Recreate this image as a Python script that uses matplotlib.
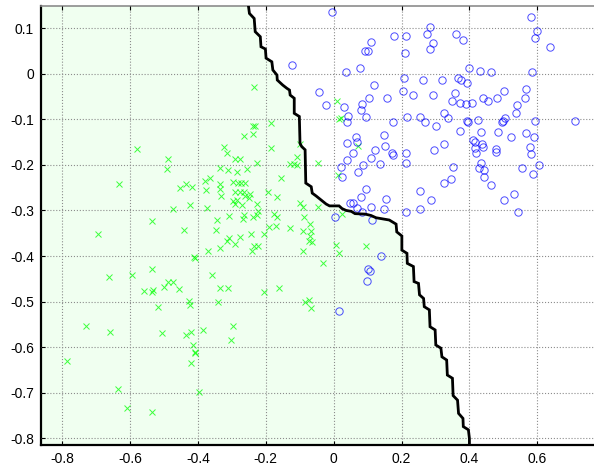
import numpy as np
import matplotlib
matplotlib.use('Agg')
import matplotlib.pyplot as plt

plt.rcParams['font.family'] = ['Liberation Sans', 'DejaVu Sans']
plt.rcParams['axes.unicode_minus'] = False

# class 1 samples (green crosses)
green_x = [-0.265, -0.324, -0.315, -0.290, -0.275, -0.285, -0.256, -0.334, -0.310, -0.580,
           -0.487, -0.492, -0.631, -0.452, -0.434, -0.418, -0.378, -0.364, -0.377, -0.334,
           -0.334, -0.332, -0.295, -0.283, -0.272, -0.260, -0.290, -0.275, -0.264, -0.260,
           -0.250, -0.247, -0.295, -0.285, -0.290, -0.270, -0.265, -0.267, -0.424, -0.474,
           -0.536, -0.372, -0.343, -0.307,
           -0.234, -0.237, -0.232, -0.185,
           -0.238, -0.185, -0.226, -0.128, -0.118, -0.108, -0.045, -0.099, -0.108, -0.155,
           -0.192, -0.167, -0.226, -0.227, -0.222, -0.237, -0.177, -0.167, -0.189, -0.169,
           -0.128, -0.099, -0.089, -0.087, -0.045, -0.069, -0.091, -0.066, -0.069, -0.074,
           -0.064, -0.089, 0.024, 0.007, 0.017, 0.096, 0.072, 0.014,
           0.009, 0.022, 0.016,
           -0.693, -0.442, -0.347, -0.315, -0.307, -0.290, -0.277, -0.244, -0.206, -0.336,
           -0.369, -0.241, -0.234, -0.224, -0.411, -0.408, -0.536, -0.661, -0.594, -0.559,
           -0.536, -0.533, -0.501, -0.487, -0.474, -0.456, -0.359, -0.334, -0.310, -0.206,
           -0.160, -0.516, -0.425, -0.424, -0.342, -0.729, -0.659, -0.506, -0.434, -0.421,
           -0.385, -0.297, -0.301, -0.415, -0.407, -0.409, -0.420, -0.786, -0.634, -0.398,
           -0.609, -0.536,
           -0.030, -0.084, -0.074, -0.067]
green_y = [-0.137, -0.160, -0.174, -0.188, -0.188, -0.215, -0.210, -0.208, -0.212, -0.165,
           -0.188, -0.210, -0.242, -0.251, -0.243, -0.248, -0.235, -0.229, -0.255, -0.242,
           -0.253, -0.268, -0.237, -0.240, -0.239, -0.239, -0.259, -0.259, -0.259, -0.268,
           -0.273, -0.264, -0.280, -0.277, -0.285, -0.288, -0.310, -0.318, -0.288, -0.297,
           -0.323, -0.294, -0.320, -0.312,
           -0.029, -0.115, -0.115, -0.109,
           -0.132, -0.164, -0.195, -0.198, -0.198, -0.201, -0.197, -0.154, -0.182, -0.228,
           -0.259, -0.270, -0.286, -0.310, -0.302, -0.314, -0.308, -0.314, -0.337, -0.335,
           -0.339, -0.284, -0.292, -0.314, -0.293, -0.330, -0.344, -0.344, -0.356, -0.368,
           -0.370, -0.390, -0.308, -0.376, -0.394, -0.378, -0.159, -0.222,
           -0.060, -0.098, -0.100,
           -0.352, -0.343, -0.343, -0.366, -0.361, -0.373, -0.359, -0.352, -0.352, -0.383,
           -0.390, -0.388, -0.378, -0.378, -0.403, -0.405, -0.429, -0.445, -0.441, -0.476,
           -0.478, -0.474, -0.467, -0.456, -0.456, -0.472, -0.441, -0.471, -0.471, -0.478,
           -0.469, -0.512, -0.499, -0.507, -0.501, -0.553, -0.566, -0.568, -0.573, -0.566,
           -0.562, -0.554, -0.584, -0.594, -0.611, -0.613, -0.635, -0.630, -0.691, -0.699,
           -0.734, -0.741,
           -0.416, -0.500, -0.496, -0.514]

# class 2 samples (blue circles)
blue_x = [-0.005, -0.123, 0.581, 0.600, 0.594, 0.638, 0.178, 0.213, 0.284, 0.274,
          0.294, 0.284, 0.360, 0.382, 0.110, 0.093, 0.100, 0.209, 0.037, 0.078,
          0.399, 0.431, 0.463, 0.584, 0.206, 0.263, 0.320, 0.366, 0.375, 0.392,
          0.120, -0.042, 0.103, 0.157, 0.203, 0.233, 0.294, 0.358, 0.348, 0.373,
          0.389, 0.407, 0.439, 0.456, 0.481, 0.502, 0.566, 0.564, 0.540, 0.537,
          -0.022, 0.032, 0.083, 0.080, 0.042, 0.096, 0.039, 0.176, 0.217, 0.253,
          0.268, 0.302, 0.325, 0.336, 0.392, 0.395, 0.424, 0.497, 0.505, 0.500,
          0.594, 0.711, 0.373, 0.412, 0.434, 0.483, 0.523, 0.567, 0.590, 0.577,
          0.581, 0.066, 0.039, 0.068, 0.147, 0.152, 0.122, 0.056, 0.039, 0.109,
          0.171, 0.174, 0.214, 0.137, 0.086, 0.021, 0.071, 0.026, 0.214, 0.297,
          0.326, 0.353, 0.346, 0.325, 0.415, 0.436, 0.439, 0.420, 0.417, 0.434,
          0.427, 0.443, 0.443, 0.464, 0.479, 0.479, 0.554, 0.605, 0.586, 0.096,
          0.080, 0.154, 0.049, 0.057, 0.068, 0.083, 0.110, 0.147, 0.213, 0.255,
          0.287, 0.253, 0.502, 0.532, 0.544, 0.004, 0.112,
          0.139, 0.100, 0.108, 0.098, 0.016]
blue_y = [0.136, 0.019, 0.124, 0.094, 0.079, 0.059, 0.083, 0.083, 0.103, 0.088,
          0.068, 0.054, 0.088, 0.074, 0.070, 0.050, 0.050, 0.045, 0.003, 0.013,
          0.013, 0.006, 0.004, 0.003, -0.010, -0.014, -0.015, -0.010, -0.014, -0.021,
          -0.025, -0.041, -0.053, -0.054, -0.039, -0.047, -0.047, -0.043, -0.060, -0.065,
          -0.067, -0.064, -0.054, -0.059, -0.054, -0.038, -0.034, -0.054, -0.069, -0.086,
          -0.069, -0.074, -0.066, -0.080, -0.092, -0.096, -0.107, -0.107, -0.096, -0.096,
          -0.107, -0.114, -0.087, -0.098, -0.103, -0.107, -0.102, -0.107, -0.098, -0.103,
          -0.103, -0.103, -0.126, -0.145, -0.127, -0.127, -0.138, -0.131, -0.140, -0.160,
          -0.177, -0.140, -0.153, -0.149, -0.134, -0.158, -0.167, -0.173, -0.189, -0.184,
          -0.175, -0.178, -0.175, -0.199, -0.200, -0.204, -0.216, -0.226, -0.195, -0.167,
          -0.155, -0.204, -0.232, -0.240, -0.149, -0.154, -0.160, -0.173, -0.163, -0.195,
          -0.207, -0.211, -0.226, -0.244, -0.165, -0.171, -0.207, -0.200, -0.219, -0.253,
          -0.270, -0.275, -0.284, -0.283, -0.295, -0.303, -0.293, -0.297, -0.303, -0.257,
          -0.277, -0.297, -0.277, -0.264, -0.304, -0.314, -0.322,
          -0.400, -0.429, -0.432, -0.454, -0.520]

# decision boundary (staircase), top to bottom
bound_x = [-0.251, -0.251, -0.248, -0.234, -0.231, -0.216, -0.214, -0.201, -0.199, -0.182,
           -0.179, -0.167, -0.166, -0.150, -0.138, -0.130, -0.128, -0.116, -0.116, -0.101,
           -0.099, -0.094, -0.084, -0.082, -0.066, -0.063, -0.052, -0.037, -0.022, -0.012,
           0.016, 0.025, 0.037, 0.052, 0.063, 0.093, 0.110, 0.125, 0.164, 0.184,
           0.186, 0.201, 0.201, 0.216, 0.217, 0.235, 0.237, 0.250, 0.253, 0.265,
           0.267, 0.282, 0.284, 0.299, 0.301, 0.316, 0.319, 0.333, 0.335, 0.350,
           0.352, 0.365, 0.368, 0.381, 0.382, 0.397, 0.400, 0.400]
bound_y = [0.170, 0.149, 0.132, 0.121, 0.092, 0.081, 0.059, 0.054, 0.034, 0.026,
           0.008, -0.003, -0.014, -0.025, -0.032, -0.036, -0.047, -0.054, -0.087, -0.094,
           -0.153, -0.160, -0.167, -0.240, -0.248, -0.262, -0.268, -0.277, -0.286, -0.290,
           -0.290, -0.296, -0.300, -0.302, -0.307, -0.308, -0.311, -0.316, -0.321, -0.330,
           -0.347, -0.356, -0.387, -0.394, -0.416, -0.423, -0.456, -0.460, -0.485, -0.493,
           -0.511, -0.518, -0.555, -0.562, -0.595, -0.602, -0.621, -0.628, -0.661, -0.668,
           -0.706, -0.716, -0.745, -0.756, -0.774, -0.781, -0.800, -0.840]

xlim = (-0.862, 0.767)
ylim = (-0.815, 0.149)
xticks = [-0.8, -0.6, -0.4, -0.2, 0, 0.2, 0.4, 0.6]
xtick_labels = ['-0.8', '-0.6', '-0.4', '-0.2', '0', '0.2', '0.4', '0.6']
yticks = [-0.8, -0.7, -0.6, -0.5, -0.4, -0.3, -0.2, -0.1, 0, 0.1]
ytick_labels = ['-0.8', '-0.7', '-0.6', '-0.5', '-0.4', '-0.3', '-0.2', '-0.1', '0', '0.1']

fig = plt.figure(figsize=(5.94, 4.67), dpi=100)
ax = fig.add_axes([41 / 594, 21.7 / 467, 553 / 594, 439.6 / 467])

# shaded region for class 1
fill_x = bound_x + [xlim[0] - 0.1, xlim[0] - 0.1]
fill_y = bound_y + [bound_y[-1], bound_y[0]]
ax.fill(fill_x, fill_y, color=(0.94, 1.0, 0.94), zorder=0.5, lw=0)

ax.plot(green_x, green_y, 'x', color=(0.0, 1.0, 0.0), ms=4.3, mew=0.7, alpha=0.75, zorder=3)
ax.plot(blue_x, blue_y, 'o', mfc='none', mec=(0.0, 0.0, 1.0), ms=5.3, mew=0.7, alpha=0.7, zorder=3)
ax.plot(bound_x, bound_y, color='black', lw=2, zorder=4, solid_joinstyle='miter')

ax.set_xlim(*xlim)
ax.set_ylim(*ylim)
ax.set_xticks(xticks)
ax.set_xticklabels(xtick_labels)
ax.set_yticks(yticks)
ax.set_yticklabels(ytick_labels)
ax.grid(True, linestyle=':', color=(0.55, 0.55, 0.55), lw=0.8)
ax.set_axisbelow(False)
ax.tick_params(direction='in', length=3, width=0.8, top=True, right=False,
               labelsize=10, pad=5, colors='black')
ax.tick_params(axis='x', pad=5)

for side in ('left', 'bottom'):
    ax.spines[side].set_linewidth(1.6)
    ax.spines[side].set_color('black')
ax.spines['top'].set_color((0.55, 0.55, 0.55))
ax.spines['top'].set_linewidth(1.2)
ax.spines['right'].set_visible(False)

fig.savefig('out.png', dpi=100)
